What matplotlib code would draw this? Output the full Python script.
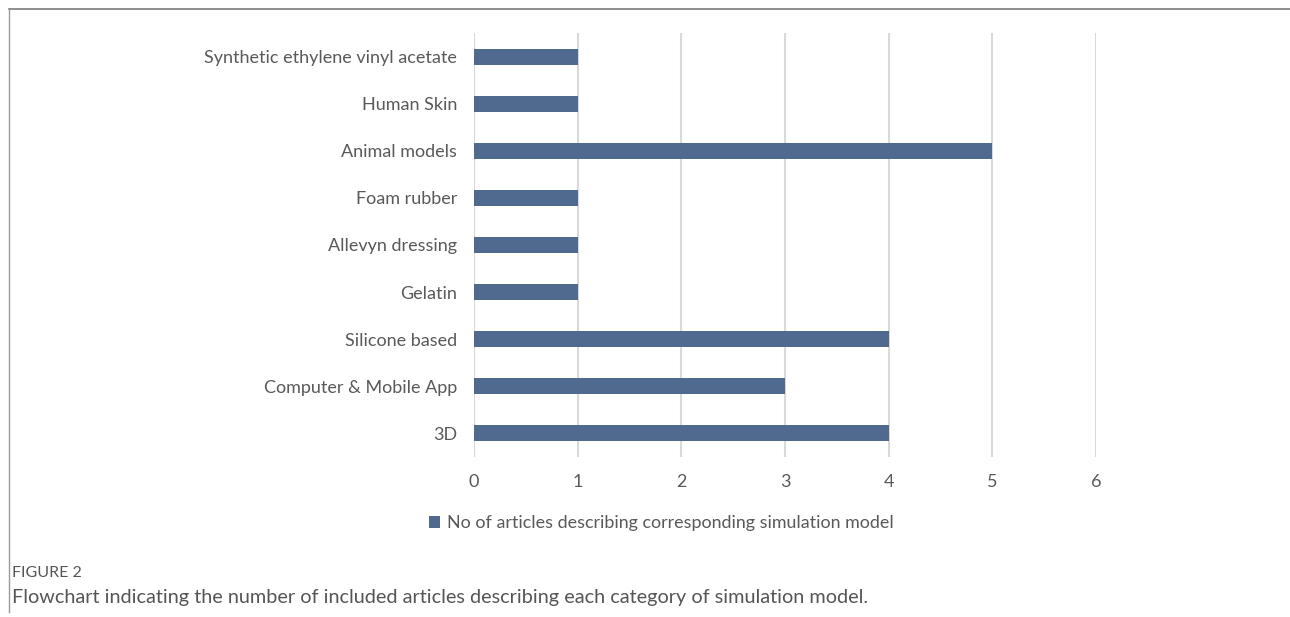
import matplotlib
matplotlib.use("Agg")
import matplotlib.pyplot as plt
from matplotlib.lines import Line2D
from matplotlib.patches import Patch

categories = ["3D", "Computer & Mobile App", "Silicone based", "Gelatin",
              "Allevyn dressing", "Foam rubber", "Animal models", "Human Skin",
              "Synthetic ethylene vinyl acetate"]
values = [4, 3, 4, 1, 1, 1, 5, 1, 1]
xticks = [0, 1, 2, 3, 4, 5, 6]
series_name = "No of articles describing corresponding simulation model"
caption_head = "FIGURE 2"
caption_text = "Flowchart indicating the number of included articles describing each category of simulation model."

W, H = 1290, 617
fig = plt.figure(figsize=(W / 100, H / 100), dpi=100)
plt.rcParams['font.family'] = ['Lato', 'DejaVu Sans']

bar_color = "#50698f"
text_color = "#595959"
grid_color = "#d9d9d9"

ax = fig.add_axes([474 / W, 1 - 457 / H, (1096 - 474) / W, (457 - 33) / H])
y = list(range(len(categories)))
ax.barh(y, values, height=0.34, color=bar_color, zorder=3)
ax.set_xlim(0, 6)
ax.set_ylim(-0.5, len(categories) - 0.5)
ax.set_xticks(xticks)
ax.set_xticklabels([str(t) for t in xticks])
ax.set_yticks(y)
ax.set_yticklabels(categories)
for s in ax.spines.values():
    s.set_visible(False)
ax.grid(axis="x", color=grid_color, linewidth=1.5, zorder=0)
ax.tick_params(axis="both", length=0, labelsize=13, colors=text_color)
ax.tick_params(axis="y", pad=12)
ax.tick_params(axis="x", pad=12)

# legend
handle = Patch(facecolor=bar_color, edgecolor="none")
fig.legend([handle], [series_name], loc="center", bbox_to_anchor=(661 / W, 1 - 523 / H),
           frameon=False, fontsize=12.9, labelcolor=text_color,
           handlelength=0.65, handleheight=0.65, handletextpad=0.35)

# frame lines
fig.add_artist(Line2D([9 / W, 1.0], [1 - 9 / H, 1 - 9 / H], color="#7a7a7a", linewidth=1.2))
fig.add_artist(Line2D([9 / W, 9 / W], [1 - 9 / H, 1 - 612 / H], color="#9a9a9a", linewidth=1.0))

fig.text(12 / W, 1 - 573 / H, caption_head, fontsize=11.5, color="#555555", va="center", ha="left")
fig.text(12 / W, 1 - 598 / H, caption_text, fontsize=14.3, color="#555555", va="center", ha="left")

fig.savefig("out.png", dpi=100)
